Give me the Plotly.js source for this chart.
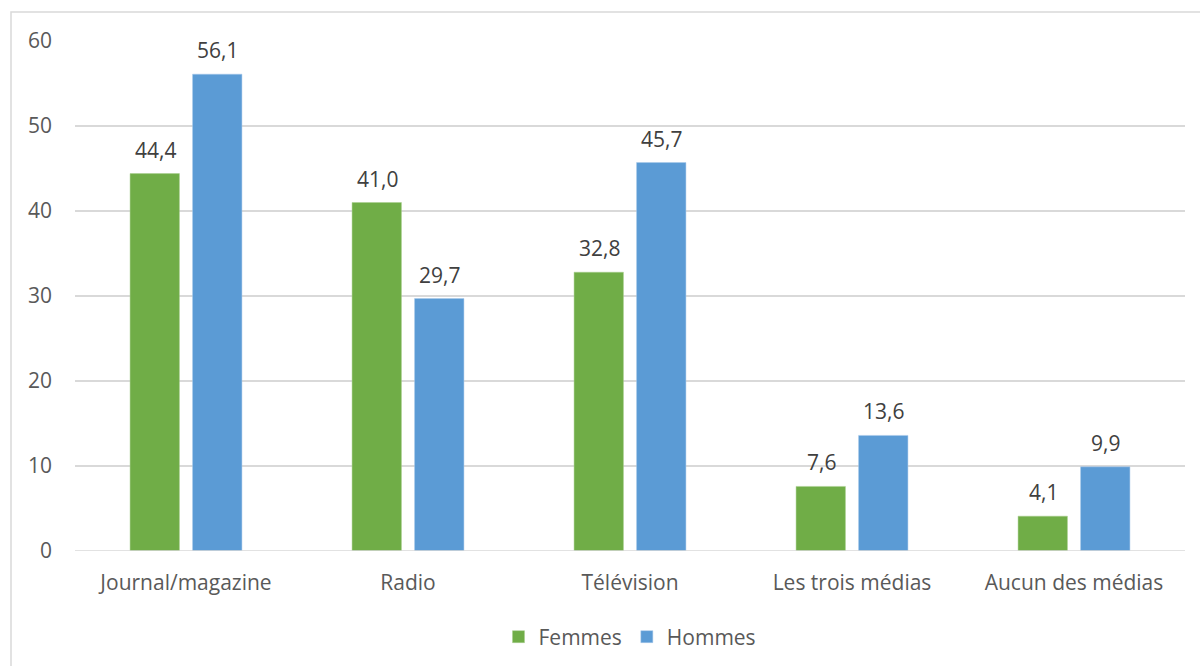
<!DOCTYPE html>
<html><head><meta charset="utf-8">
<script src="https://cdn.plot.ly/plotly-3.0.1.min.js"></script>
<style>html,body{margin:0;padding:0;background:#fff}#chart{width:1200px;height:666px}</style>
</head><body><div id="chart"></div>
<script>
const categories = ["Journal/magazine", "Radio", "Télévision", "Les trois médias", "Aucun des médias"];
const femmes = [44.4, 41.0, 32.8, 7.6, 4.1];
const hommes = [56.1, 29.7, 45.7, 13.6, 9.9];
const seriesNames = ["Femmes", "Hommes"];
const yTicks = [0, 10, 20, 30, 40, 50, 60];

const green = "#70AD47", blue = "#5B9BD5", txt = "#595959";
const FONT = "Open Sans, sans-serif";
const W = 1200, H = 666, L = 75, R = 15, T = 41, B = 115;
const pw = W - L - R, ph = H - T - B;
const px = x => (x - L) / pw, py = y => (H - B - y) / ph;

const fmt = v => v.toFixed(1).replace(".", ",");

const traces = [
  {type: "bar", name: seriesNames[0], x: categories, y: femmes, marker: {color: green, line: {color: "#a9cf8f", width: 0.5}}, hoverinfo: "none"},
  {type: "bar", name: seriesNames[1], x: categories, y: hommes, marker: {color: blue, line: {color: "#a9c8ea", width: 0.5}}, hoverinfo: "none"}
];

const annotations = [];
[femmes, hommes].forEach((arr, si) => {
  arr.forEach((v, i) => {
    annotations.push({x: categories[i], y: v, xref: "x", yref: "y", text: fmt(v), showarrow: false,
      xshift: si === 0 ? -31 : 31, yanchor: "bottom", yshift: 8, font: {family: FONT, size: 21, color: "#404040"}});
  });
});

const layout = {
  width: W, height: H,
  margin: {l: L, r: R, t: T, b: B, pad: 0, autoexpand: false},
  paper_bgcolor: "#fff", plot_bgcolor: "#fff",
  font: {family: FONT, size: 21, color: txt},
  barmode: "group", bargap: 0.437, bargroupgap: 0.21,
  showlegend: true,
  legend: {orientation: "h", x: 0.5, xanchor: "center", y: py(637), yanchor: "middle",
    font: {family: FONT, size: 21, color: txt}, itemwidth: 30, traceorder: "normal"},
  xaxis: {type: "category", showgrid: false, zeroline: false, showline: false, ticks: "", automargin: false,
    ticklabelstandoff: 17, tickfont: {family: FONT, size: 21, color: txt}},
  yaxis: {range: [0, 60], tickvals: yTicks, ticktext: yTicks.map(String), showgrid: true, gridcolor: "#d9d9d9", gridwidth: 1.5, automargin: false,
    zeroline: false, showline: false, ticks: "", ticklabelstandoff: 22, tickfont: {family: FONT, size: 21, color: txt}},
  shapes: [
    {type: "line", xref: "paper", yref: "y", x0: 0, x1: 1, y0: 0, y1: 0, line: {color: "#d9d9d9", width: 1.5}},
    {type: "rect", xref: "paper", yref: "paper", x0: px(11), x1: px(1205), y0: py(12), y1: py(680), line: {color: "#d9d9d9", width: 1.5}, fillcolor: "rgba(0,0,0,0)", layer: "below"}
  ],
  annotations: annotations
};

Plotly.newPlot("chart", traces, layout, {displayModeBar: false, staticPlot: true});
</script></body></html>
